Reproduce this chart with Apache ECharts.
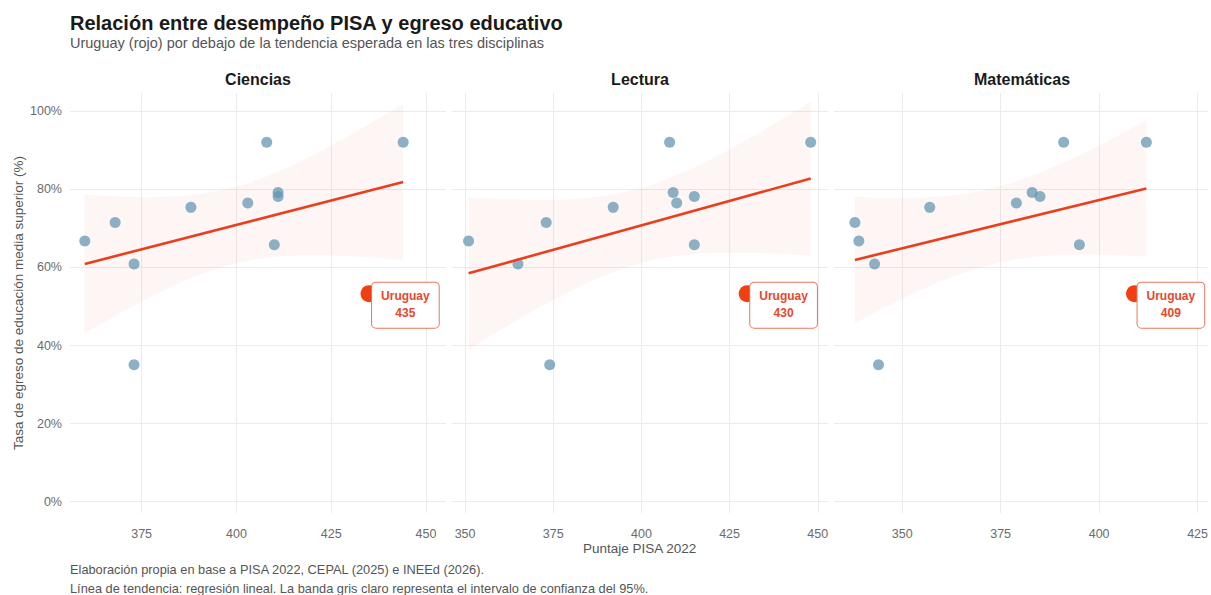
<!DOCTYPE html>
<html>
<head>
<meta charset="utf-8">
<script src="https://cdn.jsdelivr.net/npm/echarts@6/dist/echarts.min.js"></script>
<style>
  html, body { margin: 0; padding: 0; background: #fff; }
  #chart { width: 1211px; height: 595px; }
</style>
</head>
<body>
<div id="chart"></div>
<script>
// Países comparados (sin Uruguay)
const countries = ['Chile', 'Perú', 'Colombia', 'Costa Rica', 'Brasil', 'Panamá',
  'Paraguay', 'Rep. Dominicana', 'México', 'El Salvador', 'Guatemala'];

// Tasa de egreso de educación media superior (%)
const egreso = [92.1, 92.1, 79.2, 78.2, 76.5, 75.4, 71.5, 66.8, 65.8, 60.9, 35.1];

// Puntajes PISA 2022 por disciplina, mismo orden que countries
const ciencias    = [444, 408, 411, 411, 403, 388, 368, 360, 410, 373, 373];
const lectura     = [448, 408, 409, 415, 410, 392, 373, 351, 415, 365, 374];
const matematicas = [412, 391, 383, 385, 379, 357, 338, 339, 395, 343, 344];

// Uruguay
const uruguayScores = [435, 430, 409];
const uruguayEgreso = 53.3;

const panelNames = ['Ciencias', 'Lectura', 'Matemáticas'];
const panelScores = [ciencias, lectura, matematicas];

// Ticks y rangos de cada eje
const xTicks = [[375, 400, 425, 450], [350, 375, 400, 425, 450], [350, 375, 400, 425]];
const xRanges = [[356.1, 455.3], [346.3, 452.9], [332.7, 427.8]];
const yTicks = [0, 20, 40, 60, 80, 100];
const yRange = [-2.9, 104.7];

// Colores
const C_POINT = '#5f93b2';
const C_LINE = '#e8401e';
const C_URU = '#f03f10';
const C_BAND = 'rgba(235,100,70,0.06)';
const C_GRID = '#ebebeb';

// Regresión lineal (MCO) con intervalo de confianza del 95 %
function fitLine(xs, ys) {
  const n = xs.length;
  const mx = xs.reduce((a, b) => a + b, 0) / n;
  const my = ys.reduce((a, b) => a + b, 0) / n;
  let sxx = 0, sxy = 0;
  for (let i = 0; i < n; i++) { sxx += (xs[i] - mx) ** 2; sxy += (xs[i] - mx) * (ys[i] - my); }
  const b = sxy / sxx, a = my - b * mx;
  let sse = 0;
  for (let i = 0; i < n; i++) sse += (ys[i] - (a + b * xs[i])) ** 2;
  const s = Math.sqrt(sse / (n - 2));
  const t = 2.228; // t de Student, 10 g.l.
  return {
    a, b, x0: Math.min(...xs), x1: Math.max(...xs),
    y: x => a + b * x,
    half: x => t * s * Math.sqrt(1 / n + (x - mx) ** 2 / sxx)
  };
}

const PANEL_LEFT = 70, PANEL_W = 376, PANEL_GAP = 6, PANEL_TOP = 93, PANEL_H = 420;

const grids = [], xAxes = [], yAxes = [], series = [], titles = [];

titles.push({
  text: 'Relación entre desempeño PISA y egreso educativo',
  left: 70, top: 13, padding: 0,
  textStyle: { fontFamily: 'Liberation Sans', fontSize: 20, fontWeight: 'bold', color: '#1a1a1a' }
});
titles.push({
  text: 'Uruguay (rojo) por debajo de la tendencia esperada en las tres disciplinas',
  left: 70, top: 35, padding: 0,
  textStyle: { fontFamily: 'Liberation Sans', fontSize: 14.5, fontWeight: 'normal', color: '#555' }
});

panelNames.forEach((name, i) => {
  const left = PANEL_LEFT + i * (PANEL_W + PANEL_GAP);
  grids.push({ left: left, top: PANEL_TOP, width: PANEL_W, height: PANEL_H, containLabel: false });
  titles.push({
    text: name, left: left + PANEL_W / 2, top: 71, textAlign: 'center', padding: 0,
    textStyle: { fontFamily: 'Liberation Sans', fontSize: 16, fontWeight: 'bold', color: '#1a1a1a' }
  });

  xAxes.push({
    type: 'value', gridIndex: i, min: xRanges[i][0], max: xRanges[i][1],
    axisLine: { show: false },
    axisTick: { show: false, customValues: xTicks[i] },
    axisLabel: { customValues: xTicks[i], color: '#6b6b6b', fontFamily: 'Liberation Sans', fontSize: 12.5, margin: 14 },
    splitLine: { show: true, lineStyle: { color: C_GRID, width: 1 } }
  });
  yAxes.push({
    type: 'value', gridIndex: i, min: yRange[0], max: yRange[1],
    axisLine: { show: false },
    axisTick: { show: false, customValues: yTicks },
    axisLabel: {
      show: i === 0, customValues: yTicks, color: '#6b6b6b', fontFamily: 'Liberation Sans',
      fontSize: 12.5, margin: 8, formatter: v => v + '%'
    },
    splitLine: { show: true, lineStyle: { color: C_GRID, width: 1 } }
  });

  const xs = panelScores[i].concat([uruguayScores[i]]);
  const ys = egreso.concat([uruguayEgreso]);
  const fit = fitLine(xs, ys);

  // Banda de confianza
  series.push({
    type: 'custom', xAxisIndex: i, yAxisIndex: i, silent: true, z: 1,
    data: [[fit.x0, fit.y(fit.x0)]],
    renderItem: (params, api) => {
      const up = [], lo = [];
      const steps = 80;
      for (let k = 0; k <= steps; k++) {
        const x = fit.x0 + (fit.x1 - fit.x0) * k / steps;
        up.push(api.coord([x, fit.y(x) + fit.half(x)]));
        lo.push(api.coord([x, fit.y(x) - fit.half(x)]));
      }
      return { type: 'polygon', shape: { points: up.concat(lo.reverse()) }, style: { fill: C_BAND } };
    }
  });

  // Puntos de los países
  series.push({
    type: 'scatter', xAxisIndex: i, yAxisIndex: i, z: 3, silent: true,
    symbolSize: 11,
    itemStyle: { color: C_POINT, opacity: 0.72 },
    data: panelScores[i].map((x, k) => ({ name: countries[k], value: [x, egreso[k]] }))
  });

  // Línea de tendencia
  series.push({
    type: 'line', xAxisIndex: i, yAxisIndex: i, z: 4, silent: true,
    symbol: 'none',
    lineStyle: { color: C_LINE, width: 2.6 },
    data: [[fit.x0, fit.y(fit.x0)], [fit.x1, fit.y(fit.x1)]]
  });

  // Uruguay
  series.push({
    type: 'scatter', xAxisIndex: i, yAxisIndex: i, z: 5, silent: true,
    symbolSize: 17,
    itemStyle: { color: C_URU, opacity: 1 },
    data: [{ name: 'Uruguay', value: [uruguayScores[i], uruguayEgreso] }],
    label: {
      show: true,
      position: [11.5, -2.5],
      align: 'left',
      verticalAlign: 'top',
      formatter: p => '{a|Uruguay}\n{a|' + p.value[0] + '}',
      backgroundColor: '#fff',
      borderColor: '#ea7660',
      borderWidth: 1,
      borderRadius: 4,
      padding: [5, 9, 6, 9],
      rich: {
        a: { fontFamily: 'Liberation Sans', fontSize: 12, fontWeight: 'bold', color: '#e8472a', lineHeight: 17, align: 'center' }
      }
    }
  });
});

const chart = echarts.init(document.getElementById('chart'), null, { renderer: 'svg' });
chart.setOption({
  backgroundColor: '#fff',
  animation: false,
  title: titles,
  grid: grids,
  xAxis: xAxes,
  yAxis: yAxes,
  series: series,
  graphic: [
    {
      type: 'text', left: 583, top: 541,
      style: { text: 'Puntaje PISA 2022', fontFamily: 'Liberation Sans', fontSize: 13.5, fill: '#555' }
    },
    {
      type: 'text', x: 18, y: 303, rotation: Math.PI / 2,
      style: {
        text: 'Tasa de egreso de educación media superior (%)', fontFamily: 'Liberation Sans',
        fontSize: 13.5, fill: '#555', align: 'center', verticalAlign: 'middle'
      }
    },
    {
      type: 'text', x: 70, y: 563,
      style: {
        text: 'Elaboración propia en base a PISA 2022, CEPAL (2025) e INEEd (2026).',
        fontFamily: 'Liberation Sans', fontSize: 12.8, fill: '#555'
      }
    },
    {
      type: 'text', x: 70, y: 582,
      style: {
        text: 'Línea de tendencia: regresión lineal. La banda gris claro representa el intervalo de confianza del 95%.',
        fontFamily: 'Liberation Sans', fontSize: 12.8, fill: '#555'
      }
    }
  ]
});
</script>
</body>
</html>
